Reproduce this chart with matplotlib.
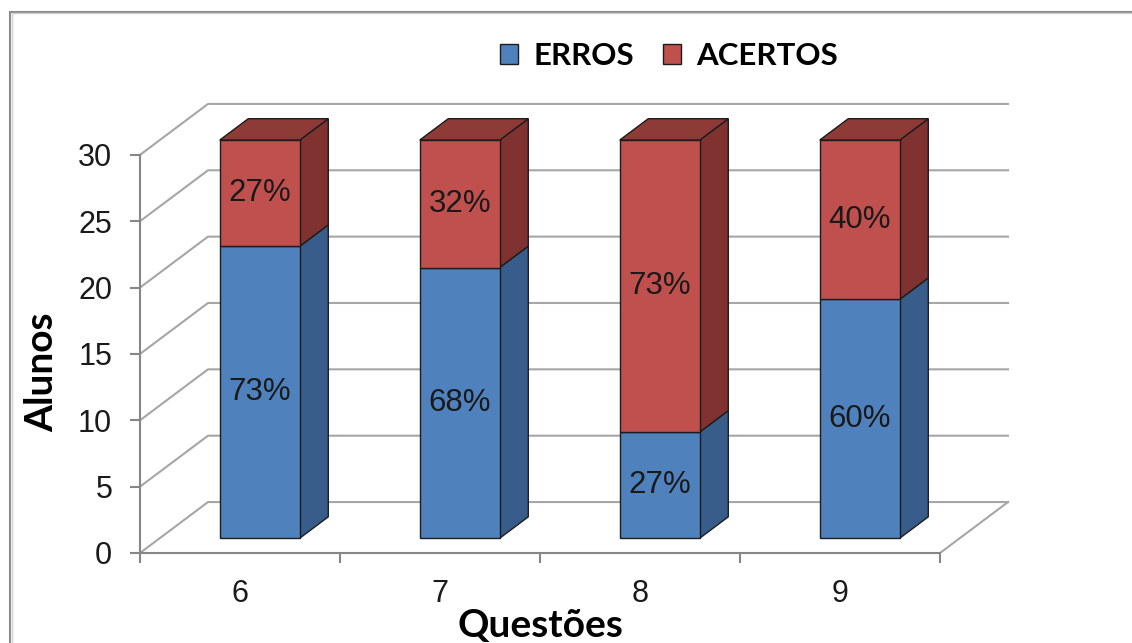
import matplotlib.pyplot as plt
from matplotlib.patches import Polygon, Rectangle
import numpy as np

questoes = ['6', '7', '8', '9']
erros = [22, 20.4, 8, 18]
acertos = [8, 9.6, 22, 12]

AZUL, AZUL_LADO, AZUL_TOPO = '#4F81BD', '#385D8A', '#41689A'
VERM, VERM_LADO, VERM_TOPO = '#C0504D', '#7F3230', '#8E3A37'
GRADE = '#A6A6A6'
EIXO = '#868686'
CONTORNO = '#1C1C1C'
TEXTO = '#1A1A1A'

DX, DY = 0.34, 3.84   # depth of floor and walls, in data units
F0, F1 = 0.29, 0.71   # front and back of the boxes as a fraction of that depth
W = 0.4               # box width

plt.rcParams['font.family'] = ['Liberation Sans', 'DejaVu Sans']
TITULO = ['Lato', 'DejaVu Sans']

fig = plt.figure(figsize=(11.32, 6.43), dpi=100)
ax = fig.add_axes([140 / 1132, 90 / 643, 870 / 1132, 451.2 / 643])
ax.set_xlim(-0.5, 3.85)
ax.set_ylim(0, 34)

n = len(questoes)
x = np.arange(n)
x0, x1 = -0.5, n - 0.5

# back wall, side wall and floor
for v in range(0, 31, 5):
    ax.plot([x0, x0 + DX, x1 + DX], [v, v + DY, v + DY], color=GRADE, lw=1.5, zorder=1)
ax.plot([x1, x1 + DX], [0, DY], color=GRADE, lw=1.5, zorder=1)


def lados(xc, base, altura, lado, topo, com_topo):
    xl = xc - W / 2 + F0 * DX
    xr = xl + W
    yb = base + F0 * DY
    yt = yb + altura
    ddx, ddy = (F1 - F0) * DX, (F1 - F0) * DY
    ax.add_patch(Polygon([(xr, yb), (xr + ddx, yb + ddy), (xr + ddx, yt + ddy), (xr, yt)],
                         closed=True, fc=lado, ec=CONTORNO, lw=1, zorder=3))
    if com_topo:
        ax.add_patch(Polygon([(xl, yt), (xl + ddx, yt + ddy), (xr + ddx, yt + ddy), (xr, yt)],
                             closed=True, fc=topo, ec=CONTORNO, lw=1, zorder=3))


for i in range(n):
    lados(x[i], 0, erros[i], AZUL_LADO, AZUL_TOPO, False)
    lados(x[i], erros[i], acertos[i], VERM_LADO, VERM_TOPO, True)

b1 = ax.bar(x + F0 * DX, erros, W, bottom=F0 * DY, color=AZUL, edgecolor=CONTORNO,
            lw=1, zorder=4, label='ERROS')
b2 = ax.bar(x + F0 * DX, acertos, W, bottom=np.array(erros) + F0 * DY, color=VERM,
            edgecolor=CONTORNO, lw=1, zorder=4, label='ACERTOS')

for i in range(n):
    total = erros[i] + acertos[i]
    pe = round(100 * erros[i] / total)
    pa = round(100 * acertos[i] / total)
    ax.text(x[i] + F0 * DX, F0 * DY + erros[i] / 2, f'{pe}%', ha='center', va='center',
            fontsize=22.5, color=TEXTO, zorder=5)
    ax.text(x[i] + F0 * DX, F0 * DY + erros[i] + acertos[i] / 2, f'{pa}%', ha='center',
            va='center', fontsize=22.5, color=TEXTO, zorder=5)

ax.spines[['top', 'right']].set_visible(False)
ax.spines['left'].set_bounds(0, 30)
ax.spines['bottom'].set_bounds(x0, x1)
for s in ['left', 'bottom']:
    ax.spines[s].set_color(EIXO)
    ax.spines[s].set_linewidth(1.5)
ax.set_yticks(range(0, 31, 5))
ax.tick_params(axis='y', length=7, width=1.5, color=EIXO, pad=13, labelsize=22,
               labelcolor=TEXTO)
ax.set_xticks(x, questoes)
ax.set_xticks(np.arange(n + 1) - 0.5, minor=True)
ax.tick_params(axis='x', which='major', length=0, pad=19, labelsize=22, labelcolor=TEXTO)
ax.tick_params(axis='x', which='minor', length=7, width=1.5, color=EIXO)

fig.text(42 / 1132, 1 - 372 / 643, 'Alunos', rotation=90, ha='center', va='center',
         fontsize=28, fontweight='bold', family=TITULO)
fig.text(540 / 1132, 1 - 625 / 643, 'Questões', ha='center', va='center',
         fontsize=28, fontweight='bold', family=TITULO)

fig.legend(handles=[b1, b2], loc='center', bbox_to_anchor=(669 / 1132, 1 - 56 / 643),
           ncol=2, frameon=False, handlelength=0.58, handleheight=0.58, handletextpad=0.5,
           columnspacing=0.9, prop={'family': TITULO, 'weight': 'bold', 'size': 22.5})

# chart area border
fig.patches.append(Rectangle((10 / 1132, -0.1), 1.2, 1.1 - 12 / 643, transform=fig.transFigure,
                             fill=False, ec='#8C8C8C', lw=1.5))
fig.patches.append(Rectangle((11.5 / 1132, -0.1), 1.2, 1.1 - 13.5 / 643,
                             transform=fig.transFigure, fill=False, ec='#D0D0D0', lw=1))

fig.savefig('out.png', dpi=100)
